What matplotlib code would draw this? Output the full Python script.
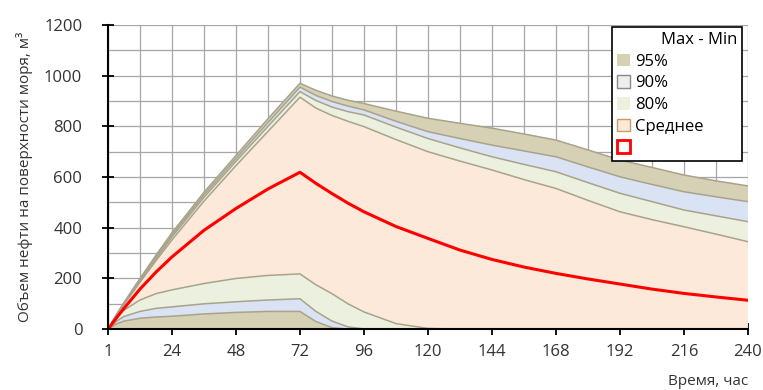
import matplotlib
matplotlib.use("Agg")
import matplotlib.pyplot as plt
from matplotlib.patches import Patch
import numpy as np

plt.rcParams['font.family'] = ['Open Sans', 'DejaVu Sans']

hours = [0, 3, 6, 12, 18, 24, 36, 48, 60, 72, 78, 84, 90, 96, 108, 120,
         132, 144, 156, 168, 180, 192, 204, 216, 228, 240]

mean = [0, 42, 82, 158, 225, 285, 390, 476, 553, 619, 575, 535, 497, 463, 405, 358,
        312, 275, 245, 220, 198, 178, 158, 141, 127, 114]

u95 = [0, 55, 105, 200, 292, 380, 540, 685, 830, 970, 942, 920, 903, 890, 860, 832,
       812, 793, 770, 746, 707, 667, 638, 608, 585, 565]
u90 = [0, 53, 102, 195, 285, 372, 530, 673, 815, 955, 922, 898, 880, 865, 820, 779,
       752, 726, 703, 680, 640, 601, 571, 542, 522, 503]
u80 = [0, 52, 100, 190, 278, 364, 520, 662, 800, 937, 902, 876, 858, 845, 797, 752,
       715, 680, 650, 621, 578, 536, 503, 470, 447, 424]
u_mid = [0, 50, 97, 185, 270, 352, 505, 645, 780, 915, 872, 843, 820, 799, 748, 700,
         663, 628, 590, 555, 508, 463, 432, 404, 375, 345]
l80 = [0, 45, 75, 115, 140, 155, 180, 200, 212, 218, 175, 140, 100, 68, 22, 3,
       0, 0, 0, 0, 0, 0, 0, 0, 0, 0]
l90 = [0, 30, 50, 70, 82, 88, 100, 108, 115, 120, 70, 32, 9, 1, 0, 0,
       0, 0, 0, 0, 0, 0, 0, 0, 0, 0]
l95 = [0, 20, 32, 43, 48, 51, 60, 66, 70, 70, 30, 6, 0, 0, 0, 0,
       0, 0, 0, 0, 0, 0, 0, 0, 0, 0]

xticks = [0, 24, 48, 72, 96, 120, 144, 168, 192, 216, 240]
xtick_labels = ['1', '24', '48', '72', '96', '120', '144', '168', '192', '216', '240']
yticks = [0, 200, 400, 600, 800, 1000, 1200]
legend_labels = ['95%', '90%', '80%', 'Среднее', '']

c95 = '#d6d0b5'
c90 = '#dae3f3'
c80 = '#ebf1de'
cmid = '#fde9d9'
edge = '#a8a38a'

fig = plt.figure(figsize=(7.63, 3.9), dpi=100)
ax = fig.add_axes([0.1415, 0.156, 0.8388, 0.780])

x = np.array(hours)
bands = [
    (np.zeros(len(x)), l95, c95),
    (l95, l90, c90),
    (l90, l80, c80),
    (l80, u_mid, cmid),
    (u_mid, u80, c80),
    (u80, u90, c90),
    (u90, u95, c95),
]
for lo, hi, c in bands:
    ax.fill_between(x, lo, hi, facecolor=c, edgecolor='none', zorder=2)
for curve in [l95, l90, l80, u_mid, u80, u90, u95]:
    ax.plot(x, curve, color=edge, lw=1.1, zorder=3)
ax.plot(x, mean, color='#ff0000', lw=2.2, zorder=4)

ax.set_xlim(0, 240)
ax.set_ylim(0, 1200)
ax.set_xticks(xticks)
ax.set_xticklabels(xtick_labels)
ax.set_yticks(yticks)
ax.set_xticks(np.arange(0, 241, 12), minor=True)
ax.set_yticks(np.arange(0, 1201, 100), minor=True)
ax.grid(True, which='both', color='#a6a6a6', lw=0.9)
ax.set_axisbelow(True)
ax.tick_params(which='minor', length=0)
ax.tick_params(which='major', direction='inout', length=9, width=1.3, labelsize=12,
               colors='black', labelcolor='#333333')
ax.tick_params(axis='y', pad=14)
ax.tick_params(axis='x', pad=6)
for s in ['top', 'right']:
    ax.spines[s].set_visible(False)
for s in ['left', 'bottom']:
    ax.spines[s].set_linewidth(1.5)
    ax.spines[s].set_color('black')
    ax.spines[s].set_zorder(5)

ax.set_ylabel('Объем нефти на поверхности моря, м³', fontsize=11, color='#333333', labelpad=8)
ax.set_xlabel('Время, час', fontsize=11, loc='right', labelpad=10, color='#333333')

handles = [
    Patch(facecolor=c95, edgecolor='none'),
    Patch(facecolor='#eeeeee', edgecolor='#888888', lw=1),
    Patch(facecolor=c80, edgecolor='none'),
    Patch(facecolor=cmid, edgecolor='#c89a6a', lw=1),
    Patch(facecolor='none', edgecolor='#ff0000', lw=2),
]
leg = ax.legend(handles, legend_labels, title='Max - Min', loc='upper left',
                bbox_to_anchor=(0.7875, 0.993, 0.203, 0.0), mode='expand',
                alignment='right',
                fontsize=12, title_fontsize=12,
                frameon=True, fancybox=False, edgecolor='black', framealpha=1,
                handlelength=0.8, handleheight=0.8, handletextpad=0.3,
                labelspacing=0.33, borderpad=0.3, borderaxespad=0.0)
leg.get_frame().set_linewidth(1.2)
leg.set_zorder(10)

fig.savefig('out.png', dpi=100, facecolor='white')
